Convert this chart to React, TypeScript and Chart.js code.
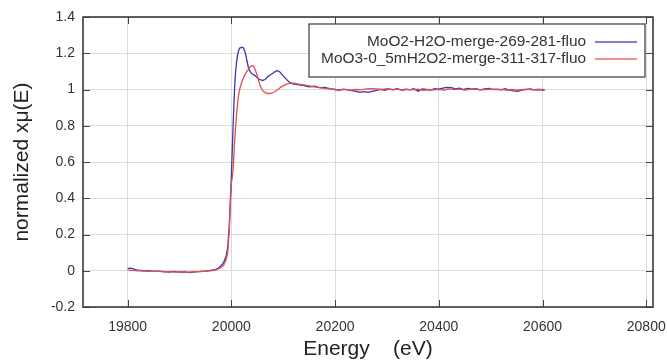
import React, { useEffect, useRef } from "react";
import { Chart, registerables } from "chart.js";

Chart.register(...registerables);

const seriesLabels = ["MoO2-H2O-merge-269-281-fluo", "MoO3-0_5mH2O2-merge-311-317-fluo"];
const seriesColors = ["#3a36b4", "#e0504e"];

const xTitle = "Energy    (eV)";
const yTitle = "normalized xμ(E)";

const blueX = [
  19800, 19805, 19810, 19815, 19820, 19830, 19840, 19850, 19860, 19870, 19880, 19890, 19900, 19910, 19920, 19930,
  19940, 19950, 19960, 19970, 19975, 19980, 19985, 19990, 19993, 19996, 19998, 20000, 20002, 20004, 20006, 20008,
  20010, 20012, 20014, 20016, 20018, 20020, 20022, 20024, 20026, 20028, 20030, 20033, 20036, 20040, 20045, 20050,
  20055, 20060, 20065, 20070, 20075, 20080, 20085, 20088, 20091, 20094, 20097, 20100, 20105, 20110, 20115, 20120,
  20125, 20130, 20140, 20150, 20160, 20170, 20180, 20190, 20200, 20208, 20216, 20224, 20232, 20240, 20248, 20256,
  20264, 20272, 20280, 20288, 20296, 20304, 20312, 20320, 20328, 20336, 20344, 20352, 20360, 20368, 20376, 20384,
  20392, 20400, 20408, 20416, 20424, 20432, 20440, 20448, 20456, 20464, 20472, 20480, 20488, 20496, 20504, 20512,
  20520, 20528, 20536, 20544, 20552, 20560, 20568, 20576, 20584, 20592, 20600, 20604,
];
const blueY = [
  0.012, 0.014, 0.012, 0.006, 0.003, 0.0, 0.001, -0.003, -0.002, -0.005, -0.007, -0.004, -0.008, -0.006, -0.01, -0.006,
  -0.005, -0.002, 0.002, 0.008, 0.015, 0.028, 0.045, 0.08, 0.13, 0.25, 0.38, 0.52, 0.68, 0.85, 0.99, 1.09,
  1.15, 1.19, 1.215, 1.228, 1.232, 1.23, 1.234, 1.225, 1.21, 1.19, 1.16, 1.12, 1.1, 1.085, 1.078, 1.065,
  1.055, 1.05, 1.055, 1.07, 1.08, 1.09, 1.1, 1.104, 1.102, 1.095, 1.085, 1.075, 1.06, 1.045, 1.035, 1.03,
  1.028, 1.025, 1.022, 1.015, 1.018, 1.01, 1.012, 1.005, 1.0, 0.996, 1.002, 0.998, 0.994, 0.99, 0.984, 0.988,
  0.984, 0.99, 0.995, 1.001, 0.996, 1.003, 0.998, 1.004, 0.997, 1.002, 0.998, 1.005, 0.991, 1.003, 1.0, 0.997,
  1.004, 1.002, 1.008, 1.012, 1.01, 1.004, 1.007, 1.0, 1.006, 1.002, 1.004, 0.998, 1.003, 1.006, 1.0, 1.002,
  0.998, 1.004, 0.997, 0.992, 0.99, 0.996, 0.999, 1.003, 0.998, 1.0, 0.997, 0.995,
];

const redX = [
  19800, 19810, 19820, 19830, 19840, 19850, 19860, 19870, 19880, 19890, 19900, 19910, 19920, 19930, 19940, 19950,
  19960, 19970, 19975, 19980, 19985, 19990, 19993, 19996, 19998, 20000, 20002, 20004, 20006, 20008, 20010, 20013,
  20016, 20020, 20025, 20030, 20035, 20040, 20043, 20046, 20050, 20055, 20060, 20065, 20070, 20075, 20080, 20085,
  20090, 20095, 20100, 20105, 20110, 20115, 20120, 20130, 20140, 20150, 20160, 20170, 20180, 20190, 20200, 20210,
  20220, 20230, 20240, 20250, 20260, 20270, 20280, 20290, 20300, 20310, 20320, 20330, 20340, 20350, 20360, 20370,
  20380, 20390, 20400, 20410, 20420, 20430, 20440, 20450, 20460, 20470, 20480, 20490, 20500, 20510, 20520, 20530,
  20540, 20550, 20560, 20570, 20580, 20590, 20600, 20604,
];
const redY = [
  0.003, 0.002, 0.0, -0.001, -0.002, -0.003, -0.004, -0.006, -0.005, -0.007, -0.006, -0.008, -0.007, -0.005, -0.004, -0.002,
  0.0, 0.005, 0.01, 0.018, 0.03, 0.06, 0.1, 0.22, 0.36, 0.48, 0.52, 0.58, 0.7, 0.78, 0.86, 0.95,
  1.0, 1.04, 1.075, 1.1, 1.12, 1.132, 1.128, 1.11, 1.075, 1.025, 0.995, 0.983, 0.978, 0.978, 0.982, 0.99,
  1.0, 1.012, 1.02, 1.028, 1.033, 1.035, 1.035, 1.03, 1.025, 1.02, 1.014, 1.01, 1.006, 1.003, 1.0, 0.998,
  1.001, 0.997, 1.0, 0.998, 1.003, 1.005, 1.004, 1.0, 1.004, 0.999, 1.002, 0.996, 1.001, 0.998, 1.002, 0.995,
  1.0, 0.998, 1.001, 0.997, 1.003, 0.999, 1.002, 0.997, 1.001, 1.003, 0.998, 1.0, 1.002, 0.999, 1.001, 0.997,
  1.0, 0.996, 0.999, 1.002, 0.998, 1.001, 1.0, 0.999,
];

const xMin = 19714;
const xMax = 20813;
const xStep = 200;
const yMin = -0.2;
const yMax = 1.4;
const yStep = 0.2;

const FONT = "'Liberation Sans', Arial, sans-serif";

const framePlugin = {
  id: "frameTicks",
  beforeDatasetsDraw(chart: any) {
    const { ctx, chartArea, scales } = chart;
    const { left, right, top, bottom } = chartArea;
    const len = 7;
    ctx.save();
    ctx.strokeStyle = "#444";
    ctx.lineWidth = 1;
    ctx.beginPath();
    for (const t of scales.x.ticks) {
      const px = Math.round(scales.x.getPixelForValue(t.value)) + 0.5;
      ctx.moveTo(px, bottom);
      ctx.lineTo(px, bottom - len);
      ctx.moveTo(px, top);
      ctx.lineTo(px, top + len);
    }
    for (const t of scales.y.ticks) {
      const py = Math.round(scales.y.getPixelForValue(t.value)) + 0.5;
      ctx.moveTo(left, py);
      ctx.lineTo(left + len, py);
      ctx.moveTo(right, py);
      ctx.lineTo(right - len, py);
    }
    ctx.stroke();
    ctx.lineWidth = 1.6;
    ctx.strokeStyle = "#3a3a3a";
    ctx.strokeRect(left, top, right - left, bottom - top);
    ctx.restore();
  },
  afterDraw(chart: any) {
    const { ctx, chartArea } = chart;
    const boxRight = chartArea.right - 8;
    const boxTop = chartArea.top + 7;
    const boxLeft = chartArea.left + 226;
    const boxH = 53;
    ctx.save();
    ctx.fillStyle = "#ffffff";
    ctx.fillRect(boxLeft, boxTop, boxRight - boxLeft, boxH);
    ctx.strokeStyle = "#3a3a3a";
    ctx.lineWidth = 1.2;
    ctx.strokeRect(boxLeft, boxTop, boxRight - boxLeft, boxH);
    ctx.font = `15.4px ${FONT}`;
    ctx.textAlign = "right";
    ctx.textBaseline = "middle";
    const rows = [boxTop + 18, boxTop + 35];
    for (let i = 0; i < seriesLabels.length; i++) {
      ctx.fillStyle = "#333";
      ctx.fillText(seriesLabels[i], boxRight - 59, rows[i]);
      ctx.strokeStyle = seriesColors[i];
      ctx.lineWidth = 1.5;
      ctx.globalAlpha = 0.85;
      ctx.beginPath();
      ctx.moveTo(boxRight - 50, rows[i]);
      ctx.lineTo(boxRight - 8, rows[i]);
      ctx.stroke();
      ctx.globalAlpha = 1;
    }
    ctx.restore();
  },
};

export default function App() {
  const ref = useRef<HTMLCanvasElement>(null);
  useEffect(() => {
    if (!ref.current) return;
    const chart = new Chart(ref.current, {
      type: "scatter",
      data: {
        datasets: [
          {
            label: seriesLabels[0],
            data: blueX.map((x, i) => ({ x, y: blueY[i] })),
            showLine: true,
            borderColor: seriesColors[0],
            borderWidth: 1.3,
            pointRadius: 0,
            order: 1,
          },
          {
            label: seriesLabels[1],
            data: redX.map((x, i) => ({ x, y: redY[i] })),
            showLine: true,
            borderColor: seriesColors[1],
            borderWidth: 1.3,
            pointRadius: 0,
            order: 0,
          },
        ],
      },
      options: {
        animation: false,
        responsive: false,
        layout: { padding: { top: 17, right: 14, left: 0, bottom: 0 } },
        plugins: { legend: { display: false }, tooltip: { enabled: false } },
        scales: {
          x: {
            type: "linear",
            min: xMin,
            max: xMax,
            ticks: {
              stepSize: xStep,
              includeBounds: false,
              maxRotation: 0,
              autoSkip: false,
              padding: 12,
              color: "#333",
              font: { family: FONT, size: 14 },
              callback: (v: any) => String(v),
            },
            grid: { color: "#dadada", drawTicks: false, lineWidth: 1 },
            border: { display: false },
            title: {
              display: true,
              text: xTitle,
              color: "#222",
              font: { family: FONT, size: 21, lineHeight: 1 },
              padding: { top: 0, bottom: 0 },
            },
            afterFit: (s: any) => {
              s.height = 53;
              s.paddingLeft = 0;
              s.paddingRight = 0;
            },
          },
          y: {
            type: "linear",
            min: yMin,
            max: yMax,
            ticks: {
              stepSize: yStep,
              padding: 8,
              color: "#333",
              font: { family: FONT, size: 14 },
              callback: (v: any) => String(Number(Number(v).toFixed(1))),
            },
            grid: { color: "#dadada", drawTicks: false, lineWidth: 1 },
            border: { display: false },
            title: {
              display: true,
              text: yTitle,
              color: "#222",
              font: { family: FONT, size: 21, lineHeight: 1 },
              padding: { top: 12, bottom: 12 },
            },
            afterFit: (s: any) => {
              s.width = 83;
              s.paddingTop = 0;
              s.paddingBottom = 0;
            },
          },
        },
      },
      plugins: [framePlugin],
    });
    return () => chart.destroy();
  }, []);
  return (
    <div style={{ position: "fixed", left: 0, top: 0, width: 667, height: 360, background: "#fff" }}>
      <canvas ref={ref} width={667} height={360} style={{ width: 667, height: 360, display: "block" }} />
    </div>
  );
}
